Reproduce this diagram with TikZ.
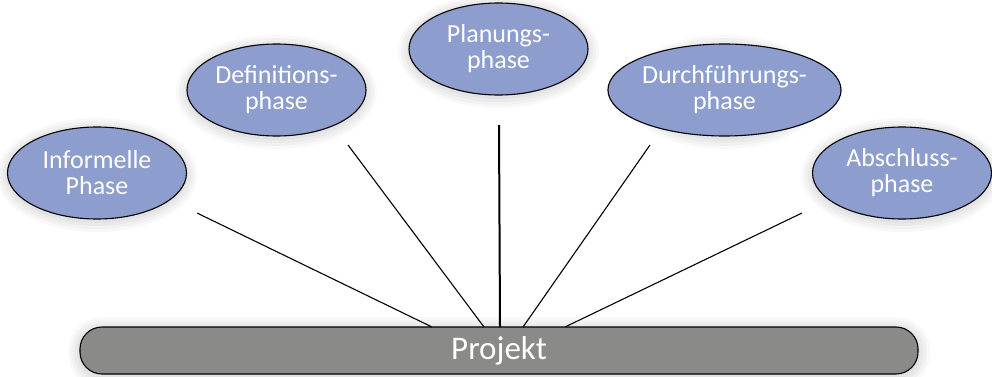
\documentclass[tikz,border=0pt]{standalone}
\usepackage{fontspec}
\setmainfont{Carlito}
\usetikzlibrary{shapes.geometric,backgrounds}
\definecolor{phasefill}{HTML}{8C9DCE}
\definecolor{barfill}{HTML}{8A8A89}
\tikzset{
  phase/.style={ellipse,draw=black,line width=1.1pt,fill=phasefill,text=white,
    minimum width=179pt,minimum height=92pt,inner sep=0pt,align=center,
    font=\fontsize{26}{26}\selectfont},
  bar/.style={rectangle,rounded corners=22pt,draw=black,line width=1.1pt,fill=barfill,text=white,
    minimum width=838pt,minimum height=47pt,inner sep=0pt,font=\fontsize{33}{33}\selectfont},
  conn/.style={draw=black,line width=1.1pt},
  glowlayer/.style={fill=black,opacity=0.028},
}
\newcommand{\myglow}[1]{%
  \foreach \d in {2,5,8,11}{
    \fill[glowlayer] ([yshift=-2pt]#1.center) ellipse ({89.5+\d} and {46+\d});
  }}
\newcommand{\mybarglow}{%
  \foreach \d in {2,5,8,11}{
    \fill[glowlayer,rounded corners={22+\d}] ([xshift=-\d pt,yshift={-\d pt-2pt}]projekt.south west) rectangle ([xshift=\d pt,yshift={\d pt-2pt}]projekt.north east);
  }}
\begin{document}
\begin{tikzpicture}[x=1pt,y=-1pt]
\useasboundingbox (0,0) rectangle (992,377);
\node[bar] (projekt) at (499,350.5) {Projekt};
\node[phase] (inf) at (97,173) {Informelle\\Phase};
\node[phase] (def) at (276.5,90) {Definitions-\\phase};
\node[phase] (plan) at (498.5,49) {Planungs-\\phase};
\node[phase] (durch) at (724.5,90) {Durchführungs-\\phase};
\node[phase] (absch) at (902,173) {Abschluss-\\phase};
\begin{scope}[on background layer]
\fill[white] (0,0) rectangle (992,377);
\myglow{inf}\myglow{def}\myglow{plan}\myglow{durch}\myglow{absch}
\mybarglow
\end{scope}
\coordinate (s1) at (197,213);
\coordinate (s2) at (348,145);
\coordinate (s3) at (499,125);
\coordinate (s4) at (650,145);
\coordinate (s5) at (802,213);
\coordinate (e1) at (432,327);
\coordinate (e2) at (484,327);
\coordinate (e3) at (500,327);
\coordinate (e4) at (523,327);
\coordinate (e5) at (565,327);
\draw[conn] (s1) -- (e1);
\draw[conn] (s2) -- (e2);
\draw[conn,line width=2pt] (s3) -- (e3);
\draw[conn] (s4) -- (e4);
\draw[conn] (s5) -- (e5);
\end{tikzpicture}
\end{document}
